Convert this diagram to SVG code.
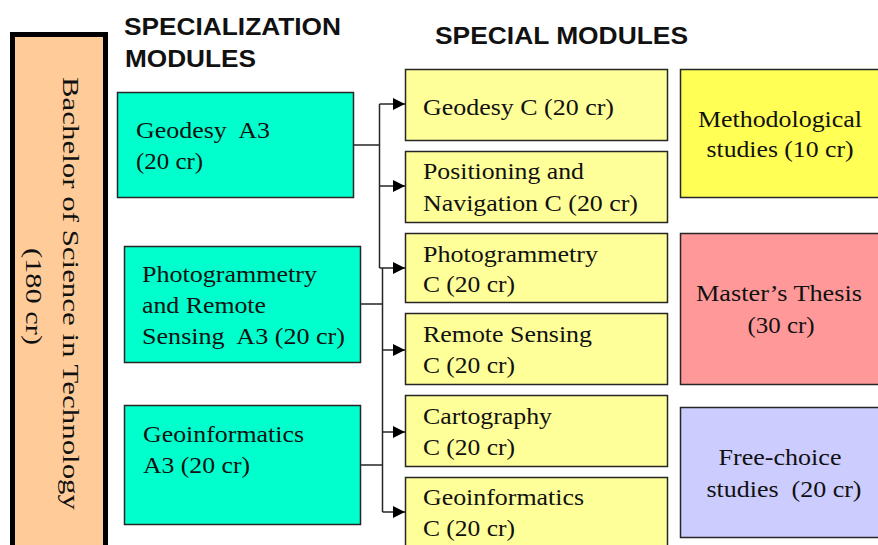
<svg xmlns="http://www.w3.org/2000/svg" width="878" height="545" viewBox="0 0 878 545">
<defs>
<style>
.box{stroke:#262626;stroke-width:1.5}
.teal{fill:#00FFCC}
.yel{fill:#FFFF99}
.meth{fill:#FFFF55}
.thesis{fill:#FF9999}
.free{fill:#CCCCFF}
.t{font-family:"Liberation Serif","Times New Roman",serif;font-size:23px;fill:#111;white-space:pre}
.c{text-anchor:middle}
.h{font-family:"Liberation Sans",Arial,sans-serif;font-weight:bold;font-size:24px;fill:#111}
.ln{stroke:#262626;stroke-width:1.5;fill:none}
</style>
<marker id="arr" viewBox="0 0 12 12" refX="12" refY="6" markerWidth="12" markerHeight="12" markerUnits="userSpaceOnUse" orient="auto">
<path d="M0,0 L12,6 L0,12 z" fill="#000"/>
</marker>
</defs>
<rect width="878" height="545" fill="#fff"/>

<g id="headers">
<text class="h" x="124" y="35" textLength="217" lengthAdjust="spacingAndGlyphs">SPECIALIZATION</text>
<text class="h" x="125" y="67" textLength="131" lengthAdjust="spacingAndGlyphs">MODULES</text>
<text class="h" x="435" y="44" textLength="253" lengthAdjust="spacingAndGlyphs">SPECIAL MODULES</text>
</g>

<g id="bachelor">
<rect x="12.5" y="34.5" width="93" height="540" fill="#FFCC99" stroke="#000" stroke-width="5"/>
<text class="t c" transform="translate(63,293.5) rotate(90)" font-size="24" textLength="433" lengthAdjust="spacingAndGlyphs">Bachelor of Science in Technology</text>
<text class="t c" transform="translate(26,296.5) rotate(90)" font-size="24" textLength="97" lengthAdjust="spacingAndGlyphs">(180 cr)</text>
</g>

<g id="spec-geodesy">
<rect class="box teal" x="117.5" y="92.5" width="236" height="105"/>
<text class="t" x="136" y="138" textLength="134" lengthAdjust="spacingAndGlyphs">Geodesy  A3</text>
<text class="t" x="136" y="169" textLength="67" lengthAdjust="spacingAndGlyphs">(20 cr)</text>
</g>
<g id="spec-photo">
<rect class="box teal" x="124.5" y="246.5" width="236" height="116"/>
<text class="t" x="142" y="282" textLength="175" lengthAdjust="spacingAndGlyphs">Photogrammetry</text>
<text class="t" x="142" y="313" textLength="124" lengthAdjust="spacingAndGlyphs">and Remote</text>
<text class="t" x="142" y="344" textLength="203" lengthAdjust="spacingAndGlyphs">Sensing  A3 (20 cr)</text>
</g>
<g id="spec-geoinf">
<rect class="box teal" x="124.5" y="405.5" width="236" height="119"/>
<text class="t" x="143" y="442" textLength="161" lengthAdjust="spacingAndGlyphs">Geoinformatics</text>
<text class="t" x="143" y="473" textLength="107" lengthAdjust="spacingAndGlyphs">A3 (20 cr)</text>
</g>

<g id="c-geodesy">
<rect class="box yel" x="405.5" y="69.5" width="262" height="71"/>
<text class="t" x="423" y="115" textLength="191" lengthAdjust="spacingAndGlyphs">Geodesy C (20 cr)</text>
</g>
<g id="c-positioning">
<rect class="box yel" x="405.5" y="151.5" width="262" height="71"/>
<text class="t" x="423" y="179" textLength="161" lengthAdjust="spacingAndGlyphs">Positioning and</text>
<text class="t" x="423" y="211" textLength="215" lengthAdjust="spacingAndGlyphs">Navigation C (20 cr)</text>
</g>
<g id="c-photo">
<rect class="box yel" x="405.5" y="233.5" width="262" height="69"/>
<text class="t" x="423" y="262" textLength="175" lengthAdjust="spacingAndGlyphs">Photogrammetry</text>
<text class="t" x="423" y="292" textLength="92" lengthAdjust="spacingAndGlyphs">C (20 cr)</text>
</g>
<g id="c-remote">
<rect class="box yel" x="405.5" y="313.5" width="262" height="71"/>
<text class="t" x="423" y="342" textLength="169" lengthAdjust="spacingAndGlyphs">Remote Sensing</text>
<text class="t" x="423" y="373" textLength="92" lengthAdjust="spacingAndGlyphs">C (20 cr)</text>
</g>
<g id="c-carto">
<rect class="box yel" x="405.5" y="395.5" width="262" height="71"/>
<text class="t" x="423" y="424" textLength="129" lengthAdjust="spacingAndGlyphs">Cartography</text>
<text class="t" x="423" y="455" textLength="92" lengthAdjust="spacingAndGlyphs">C (20 cr)</text>
</g>
<g id="c-geoinf">
<rect class="box yel" x="405.5" y="477.5" width="262" height="80"/>
<text class="t" x="423" y="505" textLength="161" lengthAdjust="spacingAndGlyphs">Geoinformatics</text>
<text class="t" x="423" y="536" textLength="92" lengthAdjust="spacingAndGlyphs">C (20 cr)</text>
</g>

<g id="methodological">
<rect class="box meth" x="680.5" y="69.5" width="210" height="128"/>
<text class="t c" x="780" y="127" textLength="164" lengthAdjust="spacingAndGlyphs">Methodological</text>
<text class="t c" x="780" y="157" textLength="147" lengthAdjust="spacingAndGlyphs">studies (10 cr)</text>
</g>
<g id="thesis">
<rect class="box thesis" x="680.5" y="233.5" width="210" height="151"/>
<text class="t c" x="779" y="301" textLength="166" lengthAdjust="spacingAndGlyphs">Master’s Thesis</text>
<text class="t c" x="781" y="333" textLength="67" lengthAdjust="spacingAndGlyphs">(30 cr)</text>
</g>
<g id="freechoice">
<rect class="box free" x="680.5" y="407.5" width="210" height="130"/>
<text class="t c" x="780" y="465" textLength="123" lengthAdjust="spacingAndGlyphs">Free-choice</text>
<text class="t c" x="784" y="497" textLength="155" lengthAdjust="spacingAndGlyphs">studies  (20 cr)</text>
</g>

<g id="connectors">
<path class="ln" d="M353,145 H379.5 M379.5,104 V268 M360,304 H382.5 M382.5,268 V512 M360,465 H382.5"/>
<line class="ln" x1="379.5" y1="104" x2="405" y2="104" marker-end="url(#arr)"/>
<line class="ln" x1="379.5" y1="186" x2="405" y2="186" marker-end="url(#arr)"/>
<line class="ln" x1="379.5" y1="268" x2="405" y2="268" marker-end="url(#arr)"/>
<line class="ln" x1="382.5" y1="350" x2="405" y2="350" marker-end="url(#arr)"/>
<line class="ln" x1="382.5" y1="432" x2="405" y2="432" marker-end="url(#arr)"/>
<line class="ln" x1="382.5" y1="512" x2="405" y2="512" marker-end="url(#arr)"/>
</g>
</svg>
